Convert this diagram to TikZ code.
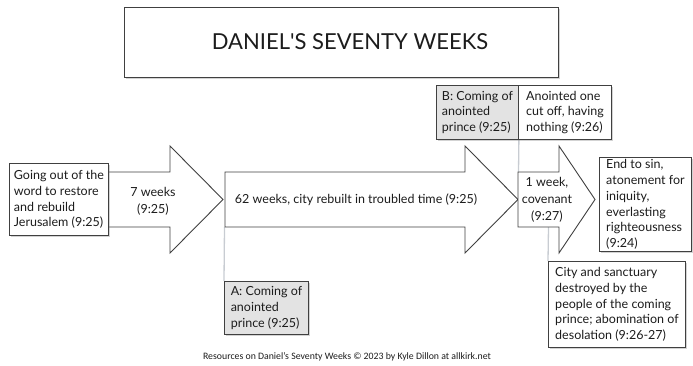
\documentclass[tikz,border=0pt]{standalone}
\usepackage{fontspec}
\setmainfont{Lato}
\newfontfamily\creditfont{Carlito}
\usetikzlibrary{shadows,backgrounds}

\definecolor{edgegrey}{HTML}{404040}
\definecolor{keygrey}{HTML}{E3E3E3}
\definecolor{tiegrey}{HTML}{C8CCD2}
\definecolor{inkgrey}{HTML}{1C1C1C}

\tikzset{
	NoteStyle/.style = {draw=edgegrey, fill=white, line width=0.9pt,
		anchor=north west, align=left, inner xsep=4pt, inner ysep=2pt,
		text=inkgrey, font=\fontsize{12.5}{15.8}\selectfont,
		drop shadow={shadow xshift=1.3pt, shadow yshift=-1.3pt, opacity=0.35}},
	KeyStyle/.style = {NoteStyle, fill=keygrey},
	ArrowStyle/.style = {draw=edgegrey, fill=white, line width=0.9pt, line join=miter},
	TieStyle/.style = {draw=tiegrey, line width=1.3pt},
	LabelStyle/.style = {align=center, text=inkgrey, font=\fontsize{12.5}{17}\selectfont}
}

\begin{document}
\begin{tikzpicture}[x=1pt, y=-1pt]
	\useasboundingbox (0,0) rectangle (693,366);
	% title
	\node[NoteStyle, minimum width=434pt, minimum height=70pt] (T) at (124,7) {};
	\node[text=inkgrey, font=\fontsize{22}{26}\selectfont] (Title) at (350,42) {DANIEL\textquotesingle S SEVENTY WEEKS};
	% notes
	\node[NoteStyle, minimum width=99pt, minimum height=72pt] (Start) at (9,163) {Going out of the\\word to restore\\and rebuild\\Jerusalem (9:25)};
	\node[KeyStyle, minimum width=82pt, minimum height=54pt] (B) at (436,85) {B: Coming of\\anointed\\prince (9:25)};
	\node[NoteStyle, minimum width=93pt, minimum height=54pt] (Cut) at (518,85) {Anointed one\\cut off, having\\nothing (9:26)};
	\node[NoteStyle, minimum width=92pt, minimum height=94pt] (End) at (599,157) {End to sin,\\atonement for\\iniquity,\\everlasting\\righteousness\\(9:24)};
	\node[NoteStyle, minimum width=137pt, minimum height=86pt] (City) at (548,261) {City and sanctuary\\destroyed by the\\people of the coming\\prince; abomination of\\desolation (9:26-27)};
	\node[KeyStyle, minimum width=84pt, minimum height=53pt] (A) at (224,281) {A: Coming of\\anointed\\prince (9:25)};
	% arrow labels
	\node[LabelStyle] (Seven) at (153,201) {7 weeks\\(9:25)};
	\node[LabelStyle] (SixtyTwo) at (356,200) {62 weeks, city rebuilt in troubled time (9:25)};
	\node[LabelStyle] (One) at (547,200) {1 week,\\covenant\\(9:27)};
	\coordinate (SixtyFoot) at (224.5,227);
	\coordinate (OneTop) at (518.5,172);
	\coordinate (OneFoot) at (548.5,227);
	\begin{scope}[on background layer]
		\draw[TieStyle] (A.north west) -- (SixtyFoot);
		\draw[TieStyle] (B.south east) -- (OneTop);
		\draw[TieStyle] (City.north west) -- (OneFoot);
		\draw[ArrowStyle] (60,172) -- (170,172) -- (170,146) -- (223,199.5) -- (170,253) -- (170,227) -- (60,227) -- cycle;
		\draw[ArrowStyle] (225,172) -- (465,172) -- (465,146) -- (518,199.5) -- (465,253) -- (465,227) -- (225,227) -- cycle;
		\draw[ArrowStyle] (518,172) -- (559,172) -- (559,146) -- (595,199.5) -- (559,253) -- (559,227) -- (518,227) -- cycle;
	\end{scope}
	\node[text=inkgrey, font=\creditfont\fontsize{9.8}{11}\selectfont] (Credit) at (347,357) {Resources on Daniel’s Seventy Weeks © 2023 by Kyle Dillon at allkirk.net};
\end{tikzpicture}
\end{document}
